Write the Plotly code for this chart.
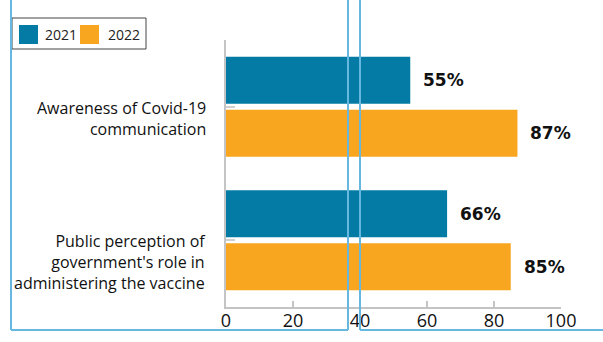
import plotly.graph_objects as go

# Survey results, share of respondents (%)
categories = [
    "Awareness of Covid-19<br>communication",
    "Public perception of<br>government's role in<br>administering the vaccine",
]
years = ["2021", "2022"]
values_2021 = [55, 66]
values_2022 = [87, 85]
x_ticks = [0, 20, 40, 60, 80, 100]

colors = {"2021": "#037ba4", "2022": "#f8a51f"}
series = {"2021": values_2021, "2022": values_2022}

W, H = 603, 342
M_L, M_R, M_T, M_B = 226, 42, 40, 35
PW, PH = W - M_L - M_R, H - M_T - M_B


def px_x(px):
    return (px - M_L) / PW


def px_y(py):
    return (H - M_B - py) / PH


fig = go.Figure()
for yr in years:
    fig.add_trace(go.Bar(
        y=categories, x=series[yr], name=yr, orientation="h",
        marker=dict(color=colors[yr], line=dict(width=0)),
        hoverinfo="x+name",
    ))

annotations = []

# value labels beside each bar
for i, yr in enumerate(years):
    shift = 26.5 if i == 0 else -26.5
    for cat, v in zip(categories, series[yr]):
        annotations.append(dict(
            x=v, y=cat, xref="x", yref="y", text=f"{v}%", showarrow=False,
            xanchor="left", yanchor="middle", xshift=11, yshift=shift,
            font=dict(family="DejaVu Sans", size=17, color="#111", weight="bold"),
        ))

# category labels, top-aligned at each category
for cat in categories:
    annotations.append(dict(
        x=px_x(208), y=cat, xref="paper", yref="y", text=cat, showarrow=False,
        xanchor="right", yanchor="top", align="right", yshift=12,
        font=dict(family="Open Sans", size=16, color="#111"),
    ))

# legend box drawn by hand
shapes = [
    dict(type="rect", xref="paper", yref="paper",
         x0=px_x(12), x1=px_x(146), y0=px_y(49), y1=px_y(18),
         line=dict(color="#444", width=1), fillcolor="white"),
]
legend_items = [("2021", 19, 43), ("2022", 80, 106)]
for yr, sx, tx in legend_items:
    shapes.append(dict(type="rect", xref="paper", yref="paper",
                       x0=px_x(sx), x1=px_x(sx + 19), y0=px_y(44), y1=px_y(25),
                       line=dict(width=0), fillcolor=colors[yr]))
    annotations.append(dict(x=px_x(tx), y=px_y(35), xref="paper", yref="paper",
                            text=yr, showarrow=False, xanchor="left", yanchor="middle",
                            font=dict(family="Open Sans", size=14, color="#222")))

# light blue frame lines
frame = "#66b8e0"
for x0, y0, x1, y1 in [
    (11, 0, 11, 330), (11, 330, 348, 330), (348, 0, 348, 330),
    (360, 0, 360, 330), (360, 330, 603, 330),
]:
    shapes.append(dict(type="line", xref="paper", yref="paper",
                       x0=px_x(x0), x1=px_x(x1), y0=px_y(y0), y1=px_y(y1),
                       line=dict(color=frame, width=2), layer="above"))

fig.update_layout(
    width=W, height=H,
    margin=dict(l=M_L, r=M_R, t=M_T, b=M_B, autoexpand=False),
    paper_bgcolor="white", plot_bgcolor="white",
    barmode="group", bargap=0.206, bargroupgap=0.113,
    showlegend=False,
    annotations=annotations, shapes=shapes,
    font=dict(family="Open Sans", color="#111"),
)
fig.update_xaxes(
    range=[0, 100], tickvals=x_ticks, ticks="inside", ticklen=6, tickwidth=2,
    tickcolor="#c4c4c4", showline=True, linecolor="#c4c4c4", linewidth=2,
    showgrid=False, zeroline=False, automargin=False, ticklabelstandoff=-4,
    tickfont=dict(family="Open Sans", size=18, color="#111"),
)
fig.update_yaxes(
    range=[1.5, -0.5], ticks="inside", ticklen=9, tickwidth=2, tickcolor="#d0d0d0",
    showline=True, linecolor="#c4c4c4", linewidth=2, showgrid=False,
    zeroline=False, layer="below traces", showticklabels=False, automargin=False,
)

fig.write_html("out.html")
